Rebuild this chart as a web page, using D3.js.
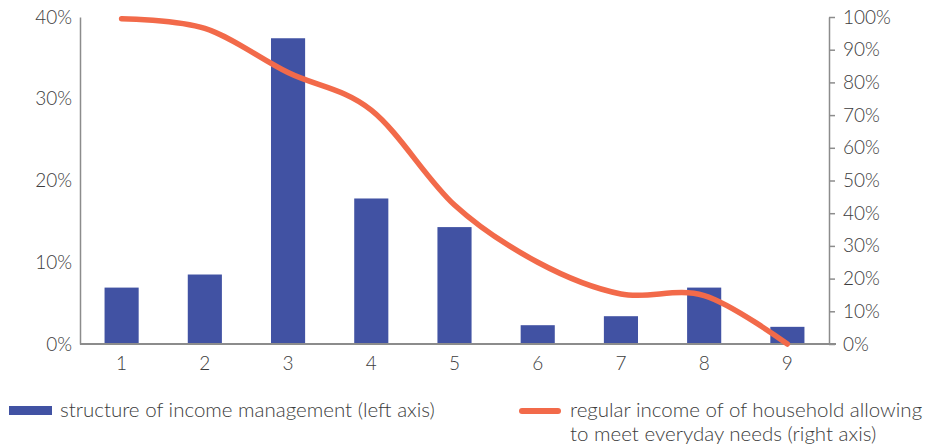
<!DOCTYPE html>
<html>
<head>
<meta charset="utf-8">
<script src="https://cdn.jsdelivr.net/npm/d3@7"></script>
<style>
  html, body { margin: 0; padding: 0; background: #fff; }
  svg { display: block; font-family: Lato, "Open Sans", sans-serif; }
  text { fill: #3c3c3c; font-weight: 300; }
</style>
</head>
<body>
<svg id="chart" width="929" height="448"></svg>
<script>
// Income groups 1..9
const categories = ["1", "2", "3", "4", "5", "6", "7", "8", "9"];
// Share of households by income-management structure (left axis)
const structureShare = [0.069, 0.085, 0.374, 0.178, 0.143, 0.023, 0.034, 0.069, 0.021];
// Share with regular income that meets everyday needs (right axis)
const regularIncome = [0.995, 0.965, 0.83, 0.715, 0.425, 0.25, 0.153, 0.148, 0.0];
const leftTicks = [0, 0.1, 0.2, 0.3, 0.4];
const rightTicks = [0, 0.1, 0.2, 0.3, 0.4, 0.5, 0.6, 0.7, 0.8, 0.9, 1.0];
const legendBar = "structure of income management (left axis)";
const legendLine = ["regular income of of household allowing", "to meet everyday needs (right axis)"];

const svg = d3.select("#chart");
const plotLeft = 80, plotRight = 829, plotTop = 17, plotBottom = 344;
const tickFont = "19px", legendFont = "20.5px";

const x = d3.scaleBand().domain(categories).range([plotLeft, plotRight])
  .paddingInner(0.59).paddingOuter(0.295);
const yL = d3.scaleLinear().domain([0, 0.4]).range([plotBottom, plotTop]);
const yR = d3.scaleLinear().domain([0, 1]).range([plotBottom, plotTop]);
const pct = d3.format(".0%");

const axisColor = "#8c8c8c";

// Bars
svg.append("g").selectAll("rect").data(structureShare).join("rect")
  .attr("x", (d, i) => x(categories[i]))
  .attr("width", x.bandwidth())
  .attr("y", d => yL(d))
  .attr("height", d => plotBottom - yL(d))
  .attr("fill", "#4152a3");

// Left axis (no tick marks)
const gL = svg.append("g").attr("transform", `translate(${plotLeft},0)`)
  .call(d3.axisLeft(yL).tickValues(leftTicks).tickFormat(pct).tickSize(0).tickPadding(8));
gL.select(".domain").attr("stroke", axisColor).attr("stroke-width", 1.5);
gL.selectAll("text").style("font-size", tickFont).style("font-family", "Lato, sans-serif");

// Right axis with outward ticks
const gR = svg.append("g").attr("transform", `translate(${plotRight},0)`)
  .call(d3.axisRight(yR).tickValues(rightTicks).tickFormat(pct).tickSizeInner(6).tickSizeOuter(0).tickPadding(8));
gR.select(".domain").attr("stroke", axisColor).attr("stroke-width", 1.5);
gR.selectAll(".tick line").attr("stroke", axisColor).attr("stroke-width", 1.5);
gR.selectAll("text").style("font-size", tickFont).style("font-family", "Lato, sans-serif");

// Bottom axis
const gB = svg.append("g").attr("transform", `translate(0,${plotBottom})`)
  .call(d3.axisBottom(x).tickSize(0).tickPadding(13));
gB.select(".domain").attr("stroke", axisColor).attr("stroke-width", 2)
  .attr("d", `M${plotLeft},0H${plotRight + 7}`);
gB.selectAll("text").style("font-size", tickFont).style("font-family", "Lato, sans-serif");

// Smoothed line
const line = d3.line()
  .x((d, i) => x(categories[i]) + x.bandwidth() / 2)
  .y(d => yR(d))
  .curve(d3.curveCardinal.tension(0));
svg.append("path").datum(regularIncome)
  .attr("d", line)
  .attr("fill", "none")
  .attr("stroke", "#f26a4a")
  .attr("stroke-width", 5.5)
  .attr("stroke-linecap", "round")
  .attr("stroke-linejoin", "round");

// Legend
const lg = svg.append("g");
lg.append("rect").attr("x", 9).attr("y", 406).attr("width", 43).attr("height", 9).attr("fill", "#4152a3");
lg.append("text").attr("x", 60).attr("y", 417).style("font-size", legendFont).text(legendBar);
lg.append("line").attr("x1", 522).attr("x2", 558).attr("y1", 411).attr("y2", 411)
  .attr("stroke", "#f26a4a").attr("stroke-width", 6).attr("stroke-linecap", "round");
lg.append("text").attr("x", 570).attr("y", 417).style("font-size", legendFont).text(legendLine[0]);
lg.append("text").attr("x", 570).attr("y", 441).style("font-size", legendFont).text(legendLine[1]);
</script>
</body>
</html>
